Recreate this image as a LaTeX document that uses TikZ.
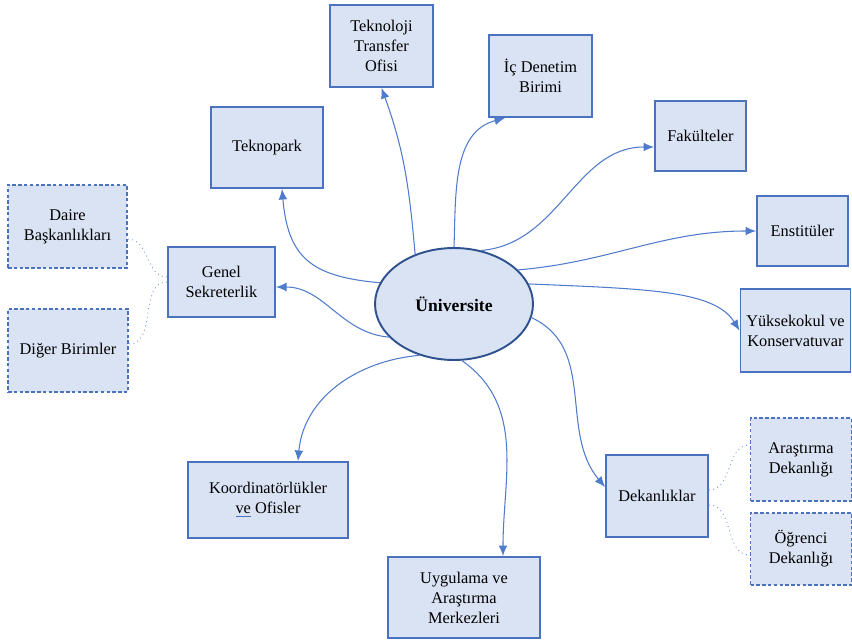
\documentclass[tikz,border=0pt]{standalone}
\usepackage{fontspec}
\setmainfont{Liberation Serif}
\usepackage{tikz}
\usetikzlibrary{shapes.geometric, arrows.meta}

\definecolor{boxfill}{HTML}{DAE3F3}
\definecolor{boxline}{HTML}{4A72BF}
\definecolor{uniline}{HTML}{2F528F}
\definecolor{linkcol}{HTML}{4F7BCB}

\begin{document}
\begin{tikzpicture}[x=0.02cm, y=0.02cm,
    unit/.style={draw=boxline, fill=boxfill, line width=1.1pt, align=center,
        font=\fontsize{9.3}{11.4}\selectfont, inner sep=2pt},
    subunit/.style={unit, dash pattern=on 2pt off 1.3pt, line width=1pt},
    link/.style={draw=linkcol, line width=0.6pt, -{Latex[length=6pt, width=5pt]}},
    sublink/.style={draw=linkcol!80, line width=0.5pt, dotted}]
    \useasboundingbox (0, 0) rectangle (852, -642);

    % centre
    \node[ellipse, draw=uniline, fill=boxfill, line width=1.1pt,
        minimum width=3.16cm, minimum height=2.24cm,
        font=\fontsize{10}{12}\selectfont\bfseries] (uni) at (454, -304) {Üniversite};

    % top row
    \node[unit, minimum width=2.06cm, minimum height=1.64cm] (tto) at (381.5, -46) {Teknoloji\\Transfer\\Ofisi};
    \node[unit, minimum width=2.06cm, minimum height=1.64cm] (ic) at (540.5, -76) {İç Denetim\\Birimi};
    \node[unit, minimum width=2.24cm, minimum height=1.62cm] (tp) at (267, -147.5) {Teknopark};

    % right side
    \node[unit, minimum width=1.82cm, minimum height=1.40cm] (fak) at (700.5, -136) {Fakülteler};
    \node[unit, minimum width=1.82cm, minimum height=1.40cm] (ens) at (802.5, -231) {Enstitüler};
    \node[unit, minimum width=2.20cm, minimum height=1.66cm] (yk) at (795.5, -330.5) {Yüksekokul ve\\Konservatuvar};

    % left side
    \node[unit, minimum width=2.14cm, minimum height=1.40cm] (gs) at (221.5, -282) {Genel\\Sekreterlik};
    \node[subunit, minimum width=2.38cm, minimum height=1.66cm] (das) at (67.5, -226.5) {Daire\\Başkanlıkları};
    \node[subunit, minimum width=2.40cm, minimum height=1.66cm] (dig) at (68, -350.5) {Diğer Birimler};

    % bottom
    \node[unit, minimum width=3.20cm, minimum height=1.52cm] (koo) at (268, -500)
        {Koordinatörlükler\\{\color{boxline}\underline{\color{black}ve}} Ofisler};
    \node[unit, minimum width=3.04cm, minimum height=1.62cm] (uyg) at (464, -597.5) {Uygulama ve\\Araştırma\\Merkezleri};
    \node[unit, minimum width=2.04cm, minimum height=1.64cm] (dek) at (657, -496) {Dekanlıklar};
    \node[subunit, minimum width=2.02cm, minimum height=1.66cm] (ard) at (801, -459.5) {Araştırma\\Dekanlığı};
    \node[subunit, minimum width=2.02cm, minimum height=1.44cm] (ogd) at (801, -549) {Öğrenci\\Dekanlığı};

    % links from the university
    \draw[link] (uni.128) to[out=95, in=-70] (tto.south);
    \draw[link] (uni.north) to[out=88, in=-165] ([xshift=0.34cm]ic.south west);
    \draw[link] (uni.164) to[out=175, in=-85, looseness=1.3] ([xshift=0.3cm]tp.south);
    \draw[link] (uni.207) to[out=175, in=0] ([yshift=-0.1cm]gs.east);
    \draw[link] (uni.63) to[out=5, in=180] ([yshift=-0.22cm]fak.west);
    \draw[link] (uni.28) to[out=5, in=180] (ens.west);
    \draw[link] (uni.15) .. controls +(120, -5) and +(-25, 40) .. (yk.west);
    \draw[link] (uni.-10) to[out=-25, in=130] ([yshift=0.18cm]dek.west);
    \draw[link] (uni.-82) to[out=-35, in=90] ([xshift=0.78cm]uyg.north);
    \draw[link] (uni.-124) to[out=185, in=85] ([xshift=0.6cm]koo.north);

    % dotted sub links
    \draw[sublink] ([yshift=0.1cm]gs.west) to[out=180, in=0] ([yshift=-0.25cm]das.east);
    \draw[sublink] (gs.west) to[out=180, in=0] ([yshift=0.13cm]dig.east);
    \draw[sublink] ([yshift=0.12cm]dek.east) to[out=0, in=180] ([yshift=0.29cm]ard.west);
    \draw[sublink] ([yshift=-0.18cm]dek.east) to[out=0, in=180] ([yshift=-0.12cm]ogd.west);
\end{tikzpicture}
\end{document}
